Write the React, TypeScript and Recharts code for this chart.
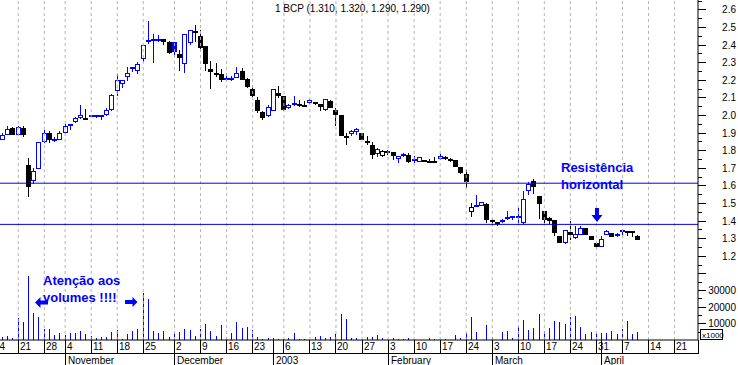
import { ComposedChart, Bar, XAxis, YAxis, ReferenceLine } from "recharts";

const BLUE = "#0000ff";
const LINE_BLUE = "#0000f0";
const FONT = "'Liberation Sans', Arial, sans-serif";
const SLOTS = 134;

// daily candles, one entry per trading slot (Oct 16 2002 .. Apr 10 2003)
const opens = [
  1.86, 1.885, 1.925, 1.885, 1.925, 1.715, 1.625, 1.695, 1.845, 1.895,
  1.86, 1.855, 1.9, 1.94, 1.96, 1.98, 1.97, 1.99, 1.99, 1.995,
  2.0, 2.03, 2.135, 2.175, 2.215, 2.265, 2.25, 2.315, 2.415, 2.425,
  2.425, 2.43, 2.415, 2.415, 2.345, 2.29, 2.41, 2.465, 2.45, 2.39,
  2.26, 2.23, 2.235, 2.205, 2.205, 2.21, 2.25, 2.205, 2.15, 2.085,
  2.015, 1.995, 2.02, 2.125, 2.105, 2.04, 2.055, 2.06, 2.055, 2.065,
  2.072, 2.06, 2.03, 2.08, 2.03, 2.0, 1.87, 1.89, 1.905, 1.895,
  1.85, 1.83, 1.78, 1.765, 1.792, 1.79, 1.75, 1.765, 1.77, 1.745,
  1.735, 1.745, 1.735, 1.733, 1.75, 1.763, 1.748, 1.745, 1.705, 1.665,
  1.45, 1.485, 1.485, 1.495, 1.405, 1.386, 1.39, 1.415, 1.418, 1.413,
  1.385, 1.565, 1.625, 1.54, 1.455, 1.415, 1.405, 1.31, 1.27, 1.335,
  1.3, 1.32, 1.355, 1.31, 1.275, 1.25, 1.32, 1.33, 1.315, 1.338,
  1.336, 1.334, 1.31,
];
const highs = [
  1.9, 1.935, 1.93, 1.935, 1.935, 1.755, 1.7, 1.845, 1.915, 1.91,
  1.875, 1.91, 1.95, 1.945, 1.99, 2.055, 2.035, 2.0, 2.0, 2.0,
  2.04, 2.12, 2.235, 2.2, 2.275, 2.27, 2.3, 2.4, 2.535, 2.46,
  2.455, 2.43, 2.42, 2.415, 2.37, 2.46, 2.485, 2.51, 2.485, 2.39,
  2.305, 2.295, 2.26, 2.22, 2.22, 2.27, 2.265, 2.21, 2.165, 2.1,
  2.02, 2.055, 2.145, 2.165, 2.11, 2.06, 2.105, 2.085, 2.08, 2.09,
  2.075, 2.06, 2.09, 2.085, 2.04, 2.0, 1.895, 1.915, 1.925, 1.9,
  1.88, 1.845, 1.81, 1.8, 1.8, 1.79, 1.767, 1.785, 1.785, 1.765,
  1.76, 1.745, 1.752, 1.763, 1.78, 1.765, 1.757, 1.745, 1.705, 1.685,
  1.5, 1.545, 1.505, 1.5, 1.41, 1.393, 1.41, 1.455, 1.422, 1.47,
  1.565, 1.62, 1.635, 1.54, 1.455, 1.42, 1.405, 1.31, 1.345, 1.4,
  1.37, 1.37, 1.36, 1.31, 1.275, 1.31, 1.345, 1.33, 1.327, 1.345,
  1.336, 1.334, 1.32,
];
const lows = [
  1.855, 1.885, 1.885, 1.885, 1.875, 1.535, 1.605, 1.69, 1.84, 1.84,
  1.845, 1.855, 1.895, 1.915, 1.955, 1.975, 1.97, 1.99, 1.985, 1.97,
  1.995, 2.025, 2.105, 2.155, 2.19, 2.245, 2.235, 2.3, 2.405, 2.295,
  2.415, 2.4, 2.345, 2.34, 2.25, 2.24, 2.4, 2.415, 2.355, 2.25,
  2.145, 2.215, 2.185, 2.195, 2.195, 2.21, 2.2, 2.155, 2.1, 2.01,
  1.97, 1.99, 2.02, 2.095, 2.025, 2.035, 2.05, 2.045, 2.045, 2.06,
  2.055, 2.02, 2.02, 2.04, 1.935, 1.88, 1.83, 1.88, 1.885, 1.855,
  1.83, 1.75, 1.76, 1.76, 1.772, 1.745, 1.725, 1.76, 1.725, 1.725,
  1.735, 1.735, 1.725, 1.73, 1.745, 1.745, 1.735, 1.705, 1.665, 1.585,
  1.42, 1.482, 1.48, 1.385, 1.37, 1.37, 1.385, 1.405, 1.405, 1.385,
  1.375, 1.545, 1.55, 1.41, 1.385, 1.38, 1.31, 1.275, 1.265, 1.29,
  1.295, 1.32, 1.315, 1.29, 1.245, 1.25, 1.315, 1.305, 1.305, 1.318,
  1.31, 1.305, 1.29,
];
const closes = [
  1.885, 1.92, 1.885, 1.93, 1.885, 1.59, 1.68, 1.845, 1.9, 1.86,
  1.86, 1.9, 1.935, 1.945, 1.985, 2.0, 1.985, 2.0, 2.0, 2.0,
  2.03, 2.115, 2.2, 2.2, 2.24, 2.27, 2.29, 2.395, 2.425, 2.43,
  2.43, 2.415, 2.35, 2.36, 2.325, 2.46, 2.48, 2.475, 2.38, 2.29,
  2.245, 2.24, 2.2, 2.21, 2.21, 2.24, 2.2, 2.16, 2.105, 2.02,
  1.985, 2.045, 2.145, 2.105, 2.03, 2.055, 2.065, 2.055, 2.052, 2.085,
  2.07, 2.045, 2.09, 2.04, 2.0, 1.88, 1.878, 1.91, 1.92, 1.855,
  1.848, 1.77, 1.805, 1.795, 1.79, 1.765, 1.767, 1.78, 1.73, 1.748,
  1.76, 1.735, 1.732, 1.73, 1.765, 1.75, 1.746, 1.705, 1.67, 1.62,
  1.475, 1.487, 1.505, 1.405, 1.39, 1.384, 1.405, 1.418, 1.42, 1.423,
  1.525, 1.61, 1.59, 1.495, 1.405, 1.4, 1.33, 1.275, 1.345, 1.315,
  1.325, 1.36, 1.32, 1.29, 1.25, 1.295, 1.34, 1.305, 1.318, 1.34,
  1.335, 1.333, 1.29,
];
// volume, in units of the axis (x1000)
const volumes = [
  1600, 2400, 1000, 13000, 10800, 38300, 16300, 14000, 6600, 6600,
  3000, 4400, 3000, 4400, 4400, 5600, 3600, 2400, 1400, 1600,
  2000, 5000, 6000, 600, 3600, 5600, 6600, 28300, 24700, 5600,
  4400, 5600, 2000, 3600, 5000, 6400, 6000, 2400, 6600, 9600,
  5600, 2400, 9000, 1600, 4400, 11000, 7200, 8000, 6000, 1600,
  600, 1000, 1200, 600, 800, 1200, 4200, 600, 600, 300,
  1800, 2400, 1200, 1800, 3600, 15600, 12600, 1200, 1200, 300,
  1800, 1800, 3000, 1200, 300, 1200, 600, 600, 1200, 300,
  200, 200, 1200, 600, 300, 600, 200, 3000, 1200, 4200,
  13800, 4800, 300, 9000, 1800, 300, 5000, 5400, 1200, 8400,
  12000, 6000, 7200, 15600, 5400, 7200, 11400, 10800, 9600, 13800,
  14400, 7800, 3600, 4800, 4200, 4200, 4200, 5400, 3600, 6600,
  11400, 3600, 4800,
];

const dayTickSlots = [3, 8, 12, 17, 22, 27, 33, 38, 43, 48, 54, 59, 64, 69, 74, 79, 84, 89, 94, 99, 104, 109, 114, 119, 124, 129];
const dayTickLabels = ["21", "28", "4", "11", "18", "25", "2", "9", "16", "23", "6", "13", "20", "27", "3", "10", "17", "24", "3", "10", "17", "24", "31", "7", "14", "21"];
// week that starts just before the first slot (Oct 14), label is cut by the left edge
const leadTickLabel = "14";
const leadTickSlotsBefore = 5;
const monthTickSlots = [12, 33, 52, 74, 94, 115];
const monthTickLabels = ["November", "December", "2003", "February", "March", "April"];

const priceTicks = [
  1.2, 1.25, 1.3, 1.35, 1.4, 1.45, 1.5, 1.55, 1.6, 1.65, 1.7, 1.75, 1.8, 1.85,
  1.9, 1.95, 2.0, 2.05, 2.1, 2.15, 2.2, 2.25, 2.3, 2.35, 2.4, 2.45, 2.5, 2.55, 2.6, 2.65,
];
const volumeTicks = [5000, 10000, 15000, 20000, 25000, 30000, 35000, 40000, 45000];
const labelledVolumes = [10000, 20000, 30000];
const resistanceLevels = [1.612, 1.378];

const rows = Array.from({ length: SLOTS }, (_, i) => {
  if (i >= opens.length) return { i, range: null, vol: null };
  return {
    i,
    o: opens[i],
    h: highs[i],
    l: lows[i],
    c: closes[i],
    range: [lows[i], highs[i]],
    vol: volumes[i],
    up: i === 0 || closes[i] >= closes[i - 1],
  };
});

const allTicks = [...dayTickSlots, ...monthTickSlots]
  .filter((v, idx, arr) => arr.indexOf(v) === idx)
  .sort((a, b) => a - b);

const Candle = (props: any) => {
  const { x, width, y, height, payload } = props;
  if (!payload || payload.range == null) return null;
  const { o, h, l, c, up } = payload;
  const k = height / (h - l);
  const py = (v: number) => y + (h - v) * k;
  const cx = Math.floor(x + width / 2);
  const color = up ? BLUE : "#000";
  const top = Math.round(py(Math.max(o, c)));
  const bot = Math.round(py(Math.min(o, c)));
  let body;
  if (bot - top < 2) {
    body = <rect x={cx - 2} y={bot === top ? top - 1 : top} width={5} height={2} fill={color} />;
  } else if (c > o) {
    body = <rect x={cx - 1.5} y={top + 0.5} width={4} height={bot - top - 1} fill="#fff" stroke={color} />;
  } else {
    body = <rect x={cx - 2} y={top} width={5} height={bot - top} fill={color} />;
  }
  return (
    <g>
      <line x1={cx + 0.5} x2={cx + 0.5} y1={Math.round(y)} y2={Math.round(y + height)} stroke={color} />
      {body}
    </g>
  );
};

const VolumeBar = (props: any) => {
  const { x, width, y, height } = props;
  if (!height || height <= 0) return null;
  const cx = Math.floor(x + width / 2);
  const top = Math.round(y);
  return <rect x={cx} y={top} width={1} height={Math.round(y + height) - top} fill={BLUE} />;
};

const DateTick = (props: any) => {
  const { x, y, payload } = props;
  const slot = payload.value;
  const px = Math.floor(x) + 0.5;
  const d = dayTickSlots.indexOf(slot);
  const m = monthTickSlots.indexOf(slot);
  const band = payload.offset ? payload.offset * 2 : 0;
  const leadX = Math.floor(x - leadTickSlotsBefore * band) + 0.5;
  return (
    <g>
      {d === 0 && band > 0 && (
        <text x={leadX + 1.5} y={y + 10} fontSize={10} fontFamily={FONT} fill="#000">
          {leadTickLabel}
        </text>
      )}
      {d >= 0 && (
        <>
          <line x1={px} x2={px} y1={y} y2={y + 13} stroke="#000" />
          <text x={px + 1.5} y={y + 10} fontSize={10} fontFamily={FONT} fill="#000">
            {dayTickLabels[d]}
          </text>
        </>
      )}
      {m >= 0 && (
        <>
          <line x1={px} x2={px} y1={y} y2={y + 25} stroke="#000" />
          <text x={px + 2.5} y={y + 23.5} fontSize={10} fontFamily={FONT} fill="#000">
            {monthTickLabels[m]}
          </text>
        </>
      )}
    </g>
  );
};

const PriceTick = (props: any) => {
  const { x, y, payload } = props;
  const v = payload.value;
  const major = Math.round(v * 100) % 10 === 0;
  const yy = Math.round(y) + 0.5;
  return (
    <g>
      <line x1={x} x2={x + (major ? 8 : 4)} y1={yy} y2={yy} stroke="#000" />
      {major && v <= 2.6 && (
        <text x={x + 38} y={yy} dy="0.35em" textAnchor="end" fontSize={10} fontFamily={FONT} fill="#000">
          {v.toFixed(1)}
        </text>
      )}
    </g>
  );
};

// the volume axis is mirrored, so its tick point sits on the shared right axis line
const VolumeTick = (props: any) => {
  const { y, payload } = props;
  const x = 698;
  const v = payload.value;
  const major = v % 10000 === 0;
  const yy = Math.round(y) + 0.5;
  return (
    <g>
      <line x1={x} x2={x + (major ? 8 : 4)} y1={yy} y2={yy} stroke="#000" />
      {labelledVolumes.includes(v) && (
        <text x={x + 38} y={yy} dy="0.35em" textAnchor="end" fontSize={10} fontFamily={FONT} fill="#000">
          {v}
        </text>
      )}
    </g>
  );
};

export default function App() {
  return (
    <div style={{ position: "absolute", left: 0, top: 0, width: 738, height: 365, background: "#fff" }}>
      <ComposedChart
        width={738}
        height={365}
        data={rows}
        margin={{ top: 0, right: 0, bottom: 0, left: 0 }}
        barGap={-5}
      >
        <XAxis
          dataKey="i"
          type="category"
          ticks={allTicks}
          interval={0}
          height={25}
          tickLine={false}
          tickSize={0}
          tickMargin={0}
          axisLine={{ stroke: "#000" }}
          tick={(p: any) => <DateTick {...p} />}
        />
        <YAxis
          yAxisId="p"
          orientation="right"
          type="number"
          domain={[0.721, 2.653]}
          allowDataOverflow
          ticks={priceTicks}
          interval={0}
          width={40}
          tickLine={false}
          tickSize={0}
          tickMargin={0}
          axisLine={{ stroke: "#000" }}
          tick={(p: any) => <PriceTick {...p} />}
        />
        <YAxis
          yAxisId="v"
          orientation="right"
          type="number"
          mirror
          width={2}
          domain={[0, 204000]}
          allowDataOverflow
          ticks={volumeTicks}
          interval={0}
          tickLine={false}
          tickSize={0}
          tickMargin={0}
          axisLine={false}
          tick={(p: any) => <VolumeTick {...p} />}
        />
        {dayTickSlots.map((s) => (
          <ReferenceLine key={`g${s}`} x={s} yAxisId="p" stroke="#b4b4b4" strokeDasharray="3 3" />
        ))}
        {resistanceLevels.map((lvl) => (
          <ReferenceLine key={`r${lvl}`} y={lvl} yAxisId="p" stroke={LINE_BLUE} />
        ))}
        <Bar yAxisId="v" dataKey="vol" barSize={5} isAnimationActive={false} shape={(p: any) => <VolumeBar {...p} />} />
        <Bar yAxisId="p" dataKey="range" barSize={5} isAnimationActive={false} shape={(p: any) => <Candle {...p} />} />
      </ComposedChart>
      <svg width={738} height={365} style={{ position: "absolute", left: 0, top: 0, pointerEvents: "none" }}>
        <text x={275} y={12} fontSize={10} fontFamily={FONT} fill="#000">
          1 BCP (1.310, 1.320, 1.290, 1.290)
        </text>
        <line x1={0} x2={698} y1={353.5} y2={353.5} stroke="#000" />
        <line x1={698.5} x2={698.5} y1={340} y2={354} stroke="#000" />
        <rect x={700.5} y={329.5} width={22} height={10} fill="#fff" stroke="#000" />
        <text x={702} y={337.5} fontSize={8} fontFamily={FONT} fill="#000">x1000</text>
        <g fontFamily={FONT} fontWeight="bold" fontSize={13} fill={BLUE}>
          <text x={561} y={172}>Resistência</text>
          <text x={561} y={189}>horizontal</text>
          <text x={43} y={285}>Atenção aos</text>
          <text x={43} y={301.5}>volumes !!!!</text>
        </g>
        <g fill={BLUE}>
          <polygon points="35,302.5 40.5,297 40.5,308" />
          <rect x={40} y={300.5} width={8} height={4} />
          <polygon points="137.5,302 132.5,297 132.5,307" />
          <rect x={125} y={300} width={8} height={4} />
          <polygon points="597,222 591.5,215 602.5,215" />
          <rect x={595} y={208} width={4} height={7.5} />
        </g>
      </svg>
    </div>
  );
}
